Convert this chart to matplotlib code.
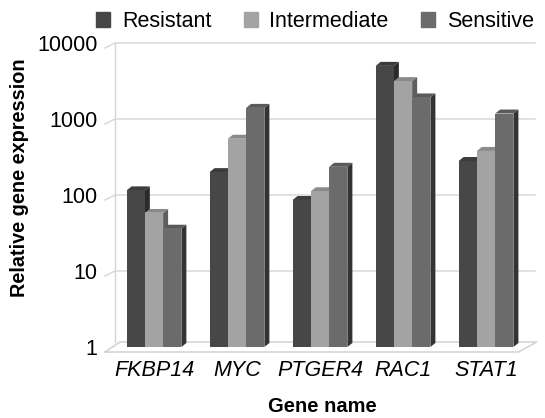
import numpy as np
import matplotlib
matplotlib.use('Agg')
import matplotlib.pyplot as plt
from matplotlib.patches import Polygon, Patch

plt.rcParams['font.family'] = ['Liberation Sans', 'DejaVu Sans']

# data
genes = ['FKBP14', 'MYC', 'PTGER4', 'RAC1', 'STAT1']
groups = ['Resistant', 'Intermediate', 'Sensitive']
resistant = [115, 200, 86, 5000, 280]
intermediate = [58, 550, 112, 3150, 380]
sensitive = [36, 1400, 235, 1920, 1180]
yticks = [1, 10, 100, 1000, 10000]

values = [resistant, intermediate, sensitive]
front_cols = ['#474747', '#a3a3a3', '#6b6b6b']
side_cols = ['#2b2b2b', '#5e5e5e', '#333333']
top_cols = ['#3c3c3c', '#8a8a8a', '#5a5a5a']
grid_col = '#d5d5d5'

fig = plt.figure(figsize=(5.45, 4.18), dpi=100)
ax = fig.add_axes([110 / 545, 1 - 347 / 418, 425 / 545, 304 / 418])
ax.set_yscale('log')
L, R = -0.53, 4.59
ax.set_ylim(1, 10000)
ax.set_xlim(L, R)

w = 0.22
dx = 0.06
f = 10 ** (4 / 76)
x = np.arange(len(genes))

for i, (vals, fc, sc, tc) in enumerate(zip(values, front_cols, side_cols, top_cols)):
    xs = x + (i - 1) * w
    ax.bar(xs, vals, width=w, bottom=1, color=fc, zorder=3 + i * 2)
    for xc, v in zip(xs, vals):
        r = xc + w / 2
        l = xc - w / 2
        side = Polygon([(r, 1), (r + dx, f), (r + dx, v * f), (r, v)],
                       closed=True, color=sc, zorder=2 + i * 2, lw=0)
        top = Polygon([(l, v), (l + dx, v * f), (r + dx, v * f), (r, v)],
                      closed=True, color=tc, zorder=2 + i * 2, lw=0)
        ax.add_patch(side)
        ax.add_patch(top)

# back wall grid lines with short diagonals to the axis
lo = 10 ** (-5 / 76)
hi = 10 ** (5 / 76)
for t in yticks[1:]:
    ax.plot([L - 0.06, L + 0.06, R], [t * lo, t, t], color=grid_col, lw=1,
            zorder=1, clip_on=False)
ax.plot([L + 0.06, L + 0.06], [hi, 10000], color=grid_col, lw=1, zorder=1)
# floor
fd = 0.2
ax.plot([L - 0.06, R - fd, R + 0.02, L + 0.12, L - 0.06],
        [lo, lo, hi, hi, lo],
        color=grid_col, lw=1.2, zorder=1, clip_on=False)

ax.set_yticks(yticks)
ax.set_yticklabels([str(t) for t in yticks], fontsize=15.5)
ax.yaxis.set_minor_locator(matplotlib.ticker.NullLocator())
ax.set_xticks(x)
ax.set_xticklabels(genes, fontsize=15.5, style='italic')
ax.tick_params(length=0)
ax.tick_params(axis='y', pad=9)
ax.tick_params(axis='x', pad=9)
for s in ax.spines.values():
    s.set_visible(False)

ax.set_ylabel('Relative gene expression', fontsize=14.3, fontweight='bold')
ax.yaxis.set_label_coords(-0.19, 0.556)
ax.set_xlabel('Gene name', fontsize=14.5, fontweight='bold', labelpad=12)

handles = [Patch(color=c) for c in front_cols]
fig.legend(handles, groups, loc='upper right', bbox_to_anchor=(1.015, 1.02),
           ncol=3, frameon=False, fontsize=15.5, handlelength=0.65,
           handleheight=0.65, handletextpad=0.55, columnspacing=1.5)

fig.savefig('out.png', dpi=100)
